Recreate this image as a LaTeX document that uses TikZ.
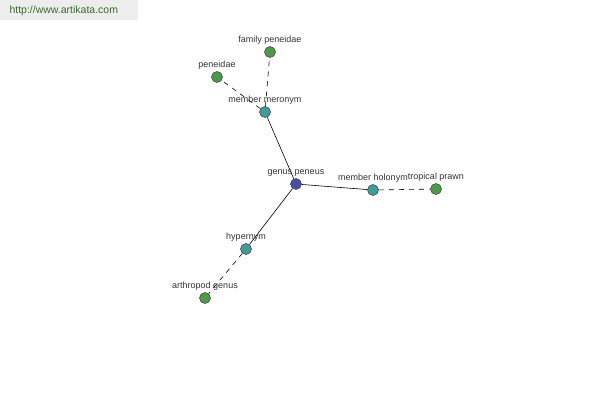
\documentclass[tikz,border=0pt]{standalone}
\usepackage{fontspec}
\setmainfont{Liberation Sans}
\usepackage{tikz}
\usetikzlibrary{positioning}
\definecolor{hubblue}{HTML}{4A4FA6}
\definecolor{relteal}{HTML}{3F9C9A}
\definecolor{leafgreen}{HTML}{4E9A48}
\definecolor{bannergray}{HTML}{EDEDED}
\definecolor{bannertext}{HTML}{3C6A2C}
\definecolor{labelgray}{HTML}{333333}

\begin{document}
\begin{tikzpicture}[x=1pt,y=-1pt,
  dot/.style={circle,draw=black!70,line width=0.6pt,minimum size=11pt,inner sep=0pt},
  hub/.style={dot,fill=hubblue},
  rel/.style={dot,fill=relteal},
  leaf/.style={dot,fill=leafgreen},
  link/.style={line width=0.6pt},
  weak/.style={link,dash pattern=on 5pt off 5pt},
  lbl/.style={font=\fontsize{9}{10}\selectfont,text=labelgray,inner sep=0.5pt}]
\useasboundingbox (0,0) rectangle (600,400);
\fill[bannergray] (0,0) rectangle (138,20);
\node (site) [anchor=west,font=\fontsize{10.5}{12}\selectfont,text=bannertext] at (6,10.5) {http://www.artikata.com};
% nodes
\node[hub] (peneus) at (296,184) {};
\node[rel] (meronym) at (265,112) {};
\node[rel] (holonym) at (373,190) {};
\node[rel] (hypernym) at (246,249) {};
\node[leaf] (famp) at (270,52) {};
\node[leaf] (peneidae) at (217,77) {};
\node[leaf] (prawn) at (436,189) {};
\node[leaf] (arthro) at (205,298) {};
% edges
\draw[link] (peneus) -- (meronym);
\draw[link] (peneus) -- (holonym);
\draw[link] (peneus) -- (hypernym);
\draw[weak] (meronym) -- (famp);
\draw[weak] (meronym) -- (peneidae);
\draw[weak] (holonym) -- (prawn);
\draw[weak] (hypernym) -- (arthro);
% labels
\node[lbl] (peneusl) [above=1pt of peneus] {genus peneus};
\node[lbl] (meronyml) [above=1pt of meronym] {member meronym};
\node[lbl] (holonyml) [above=1pt of holonym] {member holonym};
\node[lbl] (hypernyml) [above=1pt of hypernym] {hypernym};
\node[lbl] (fampl) [above=1pt of famp] {family peneidae};
\node[lbl] (peneidael) [above=1pt of peneidae] {peneidae};
\node[lbl] (prawnl) [above=1pt of prawn] {tropical prawn};
\node[lbl] (arthrol) [above=1pt of arthro] {arthropod genus};
\end{tikzpicture}
\end{document}
